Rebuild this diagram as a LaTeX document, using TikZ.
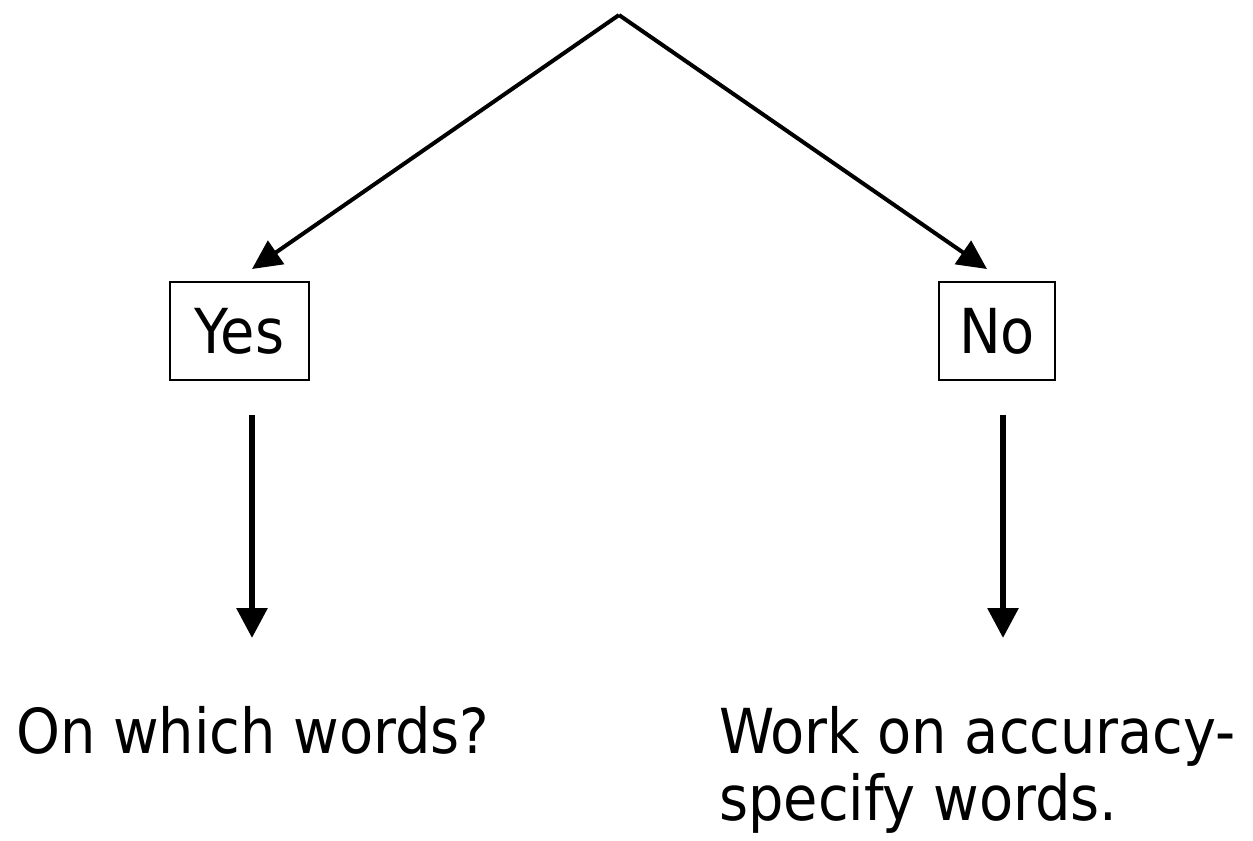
\documentclass[tikz,border=0pt]{standalone}
\usepackage{fontspec}
\setmainfont{DejaVu Sans Condensed}
\usetikzlibrary{arrows.meta}
\begin{document}
\begin{tikzpicture}[x=0.75pt,y=-0.75pt,
  txt/.style={font=\fontsize{46.5pt}{50pt}\selectfont, inner sep=0pt},
  choice/.style={txt, draw=black, line width=1.2pt, minimum height=73.5pt},
  diag/.style={line width=3pt, -{Triangle[length=22pt,width=21pt]}},
  vert/.style={line width=4.5pt, -{Triangle[length=22.5pt,width=22.5pt]}}]
\useasboundingbox (0,0) rectangle (1253,840);
\coordinate (apex) at (619,15);
\coordinate (lt) at (252,269);
\coordinate (rt) at (987,269);
\node[choice, minimum width=104.25pt] (yes) at (239.5,331) {Yes};
\node[choice, minimum width=87pt] (no) at (997,331) {No};
\coordinate (ys) at (252,415);
\coordinate (ye) at (252,638);
\coordinate (ns) at (1003,415);
\coordinate (ne) at (1003,638);
\node[txt, anchor=base west] (q) at (16,753) {On which words?};
\node[txt, anchor=north west, align=left] (w) at (719,706) {Work on accuracy-\\specify words.};
\draw[diag] (apex) -- (lt);
\draw[diag] (apex) -- (rt);
\draw[vert] (ys) -- (ye);
\draw[vert] (ns) -- (ne);
\end{tikzpicture}
\end{document}
